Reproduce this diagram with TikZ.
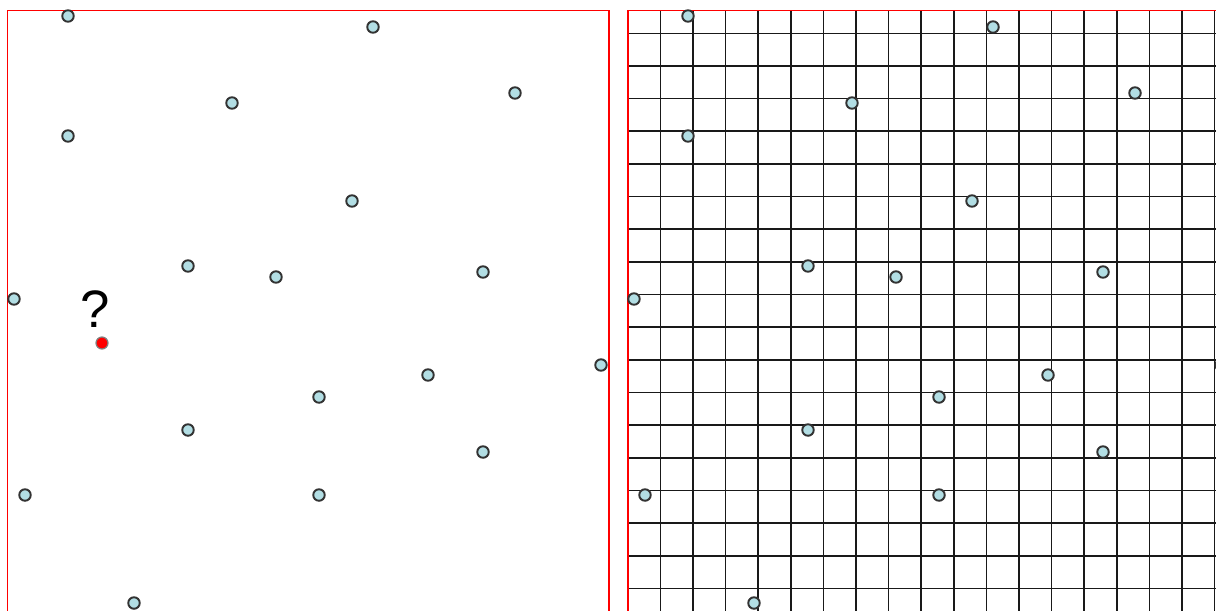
\documentclass[tikz,border=0pt]{standalone}
\usepackage{fontspec}
\setmainfont{Liberation Sans}
\definecolor{sitefill}{RGB}{178,222,228}

\begin{document}
\begin{tikzpicture}[x=0.02cm, y=-0.02cm,
    site/.style={circle, draw=black!80, fill=sitefill, line width=1.1pt, inner sep=0pt, minimum size=0.23cm},
    query/.style={circle, draw=black!50, fill=red, line width=0.7pt, inner sep=0pt, minimum size=0.24cm},
    frame/.style={draw=red, line width=1.1pt},
    gridline/.style={draw=black!90, line width=0.9pt}]
    \useasboundingbox (0,0) rectangle (1216,610);
    \clip (0,0) rectangle (1216,610);
    \foreach \k in {1,...,18}
        \draw[gridline] (627.7+32.6*\k,10.5) -- (627.7+32.6*\k,620);
    \foreach \k in {0,...,17}
        \draw[gridline] (627.7,33.3+32.65*\k) -- (1230,33.3+32.65*\k);
    \draw[frame] (7.5,640) -- (7.5,10.5) -- (609,10.5) -- (609,640);
    \draw[frame] (627.7,640) -- (627.7,10.5) -- (1240,10.5);
    \foreach \x/\y [count=\i] in {68/16, 373/27, 232/103, 515/93, 68/136, 352/201,
        188/266, 276/277, 483/272, 14/299, 601/365, 428/375, 319/397,
        188/430, 483/452, 25/495, 319/495, 134/603}{
        \node[site] (a\i) at (\x,\y) {};
        \node[site] (b\i) at (\x+620,\y) {};
    }
    \node[query] (target) at (102,343) {};
    \node[font=\fontsize{30}{30}\selectfont, inner sep=0pt] (ask) at (95,309) {?};
\end{tikzpicture}
\end{document}
